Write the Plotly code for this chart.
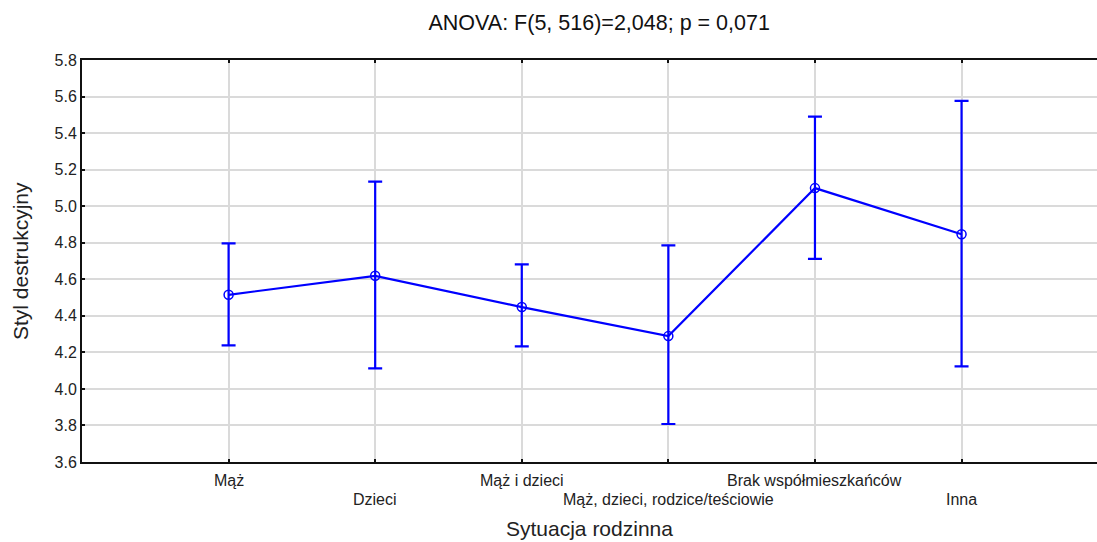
import plotly.graph_objects as go

categories = ["Mąż", "Dzieci", "Mąż i dzieci", "Mąż, dzieci, rodzice/teściowie",
              "Brak współmieszkańców", "Inna"]
means = [4.515, 4.619, 4.448, 4.289, 5.099, 4.846]
upper = [4.797, 5.134, 4.682, 4.786, 5.490, 5.576]
lower = [4.238, 4.112, 4.233, 3.808, 4.712, 4.123]
y_ticks = [3.6, 3.8, 4.0, 4.2, 4.4, 4.6, 4.8, 5.0, 5.2, 5.4, 5.6, 5.8]

x_idx = list(range(len(categories)))
err_plus = [u - m for u, m in zip(upper, means)]
err_minus = [m - l for m, l in zip(means, lower)]

BLUE = "#0000ff"
FONT = "Liberation Sans, Arial"
fig = go.Figure()
fig.add_trace(go.Scatter(
    x=x_idx, y=means, mode="lines+markers",
    line=dict(color=BLUE, width=2.2),
    marker=dict(symbol="circle-open", size=9, color=BLUE, line=dict(width=1.5, color=BLUE)),
    error_y=dict(type="data", symmetric=False, array=err_plus, arrayminus=err_minus,
                 color=BLUE, thickness=2.2, width=7),
    showlegend=False,
))

# staggered category labels
for i, c in enumerate(categories):
    fig.add_annotation(x=i, y=0, xref="x", yref="paper", text=c, showarrow=False,
                       xanchor="center", yanchor="middle",
                       yshift=-18 if i % 2 == 0 else -37,
                       font=dict(family=FONT, size=16, color="#222"))

# axis titles
fig.add_annotation(x=0.5, y=0, xref="paper", yref="paper", text="Sytuacja rodzinna",
                   showarrow=False, xanchor="center", yanchor="middle", yshift=-66,
                   font=dict(family=FONT, size=21, color="#222"))
fig.add_annotation(x=0, y=0.5, xref="paper", yref="paper", text="Styl destrukcyjny",
                   showarrow=False, xanchor="center", yanchor="middle", xshift=-62,
                   textangle=-90, font=dict(family=FONT, size=21, color="#222"))

fig.update_layout(
    width=1097, height=542,
    margin=dict(l=82, r=0, t=60, b=80),
    paper_bgcolor="white", plot_bgcolor="white",
    font=dict(family=FONT, size=16, color="#222"),
    title=dict(text="ANOVA: F(5, 516)=2,048; p = 0,071", x=559/1097, xanchor="center",
               xref="paper", y=1 - 22/542, yanchor="middle", font=dict(size=21.5, color="#111")),
    xaxis=dict(range=[-1, 5.924], tickvals=x_idx, ticktext=[""] * len(x_idx),
               automargin=False,
               showgrid=True, gridcolor="#dadada", gridwidth=2,
               showline=True, linecolor="#111", linewidth=2, mirror="ticks",
               ticks="inside", ticklen=3, tickwidth=2, tickcolor="#111",
               zeroline=False),
    yaxis=dict(range=[3.6, 5.8], tickvals=y_ticks, ticktext=[f"{v:.1f}" for v in y_ticks],
               automargin=False,
               showgrid=True, gridcolor="#dadada", gridwidth=2,
               showline=True, linecolor="#111", linewidth=2,
               ticks="inside", ticklen=3, tickwidth=2, tickcolor="#111",
               tickfont=dict(size=16, color="#222"),
               zeroline=False),
)

fig.write_html("out.html", config={"displayModeBar": False},
               post_script="document.body.style.margin='0px';document.body.style.overflow='hidden';")
